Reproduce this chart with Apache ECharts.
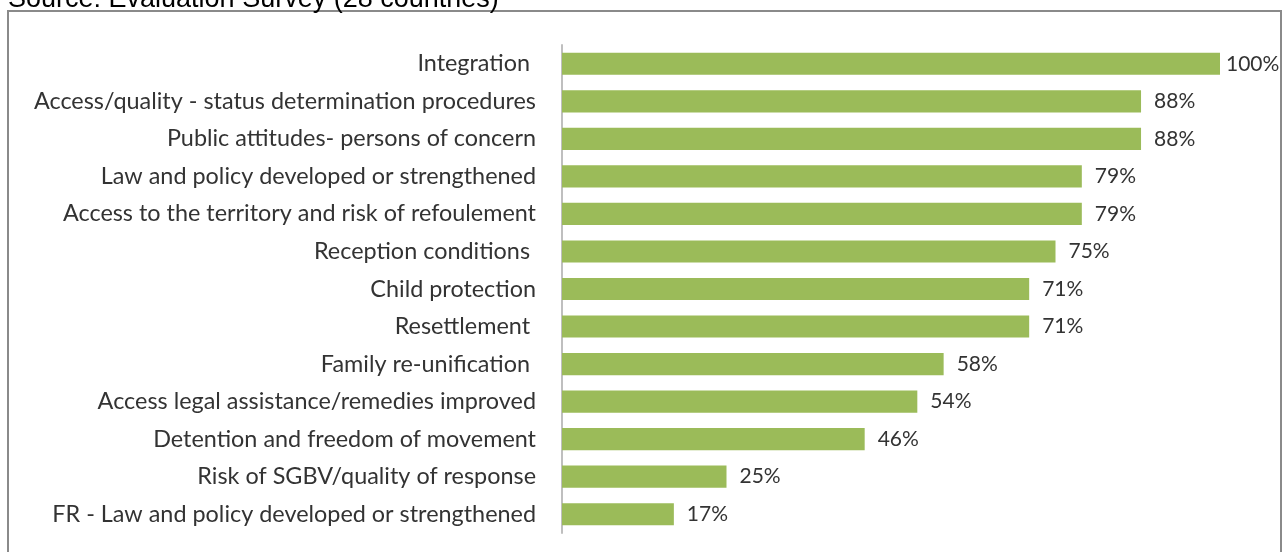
<!DOCTYPE html>
<html>
<head>
<meta charset="utf-8">
<script src="https://cdn.jsdelivr.net/npm/echarts@6/dist/echarts.min.js"></script>
<style>
html,body{margin:0;padding:0;background:#fff;}
#chart{width:1283px;height:552px;}
</style>
</head>
<body>
<div id="chart"></div>
<script>
const categories = [
  "Integration ",
  "Access/quality - status determination procedures",
  "Public attitudes- persons of concern",
  "Law and policy developed or strengthened",
  "Access to the territory and risk of refoulement",
  "Reception conditions ",
  "Child protection",
  "Resettlement ",
  "Family re-unification ",
  "Access legal assistance/remedies improved",
  "Detention and freedom of movement",
  "Risk of SGBV/quality of response",
  "FR - Law and policy developed or strengthened"
];
const values = [100, 88, 88, 79, 79, 75, 71, 71, 58, 54, 46, 25, 17];
const sourceNote = "Source: Evaluation Survey (28 countries)";

const barData = values.map(v => v >= 100 ? {value: v, label: {distance: 6}} : v);

const chart = echarts.init(document.getElementById('chart'));
chart.setOption({
  animation: false,
  graphic: [
    {
      type: 'rect',
      shape: {x: 8, y: 11, width: 1273, height: 560},
      style: {fill: 'none', stroke: '#8a8a8a', lineWidth: 2}
    },
    {
      type: 'text',
      style: {
        text: sourceNote, x: 8, y: 13, verticalAlign: 'bottom',
        font: '27px Arial, "Liberation Sans", sans-serif', fill: '#000'
      }
    }
  ],
  grid: {left: 562, right: 63, top: 45, height: 488},
  xAxis: {
    type: 'value', min: 0, max: 100, show: false
  },
  yAxis: {
    type: 'category',
    data: categories,
    inverse: true,
    axisLine: {show: true, lineStyle: {color: '#bfbfbf', width: 2}},
    axisTick: {show: false},
    axisLabel: {
      margin: 26, color: '#333', fontSize: 23.4,
      fontFamily: 'Lato, "Open Sans", sans-serif'
    }
  },
  series: [{
    type: 'bar',
    data: barData,
    barCategoryGap: '41%',
    itemStyle: {color: '#9BBB59'},
    label: {
      show: true, position: 'right', distance: 13,
      formatter: p => p.value + '%',
      color: '#333', fontSize: 21,
      fontFamily: 'Lato, "Open Sans", sans-serif'
    }
  }]
});
</script>
</body>
</html>
